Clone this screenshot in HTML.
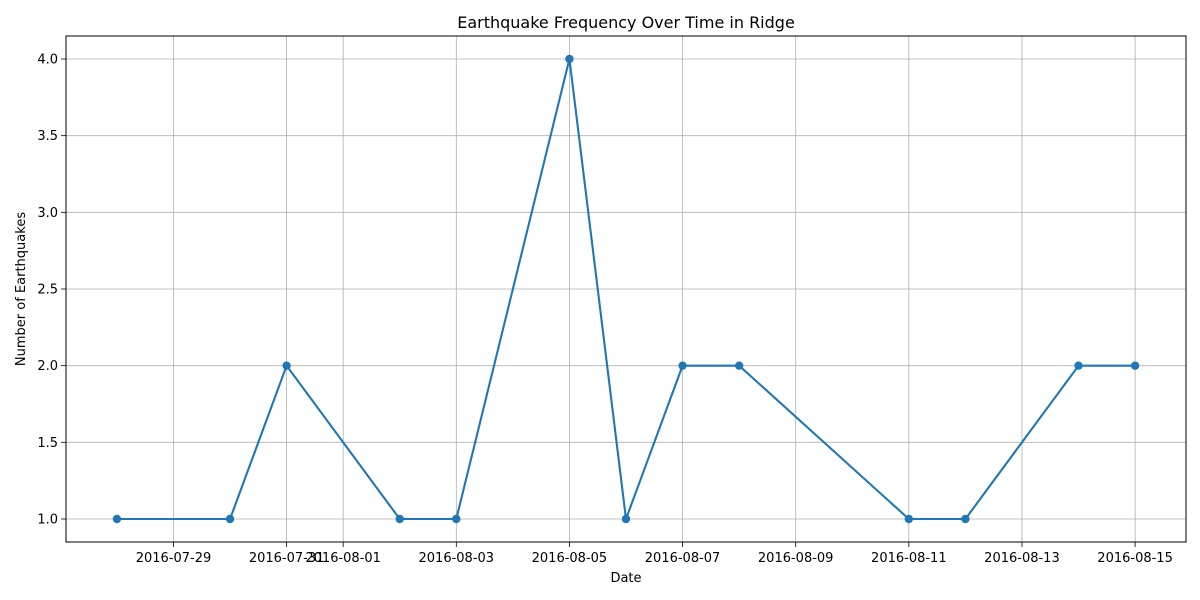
<!DOCTYPE html>
<html>
<head>
<meta charset="utf-8">
<style>
  html,body{margin:0;padding:0;background:#fff;}
  svg{display:block;font-family:"DejaVu Sans","Liberation Sans",sans-serif;}
</style>
</head>
<body>
<svg id="chart" width="1200" height="600"></svg>
<script>
const dates = ["2016-07-28","2016-07-30","2016-07-31","2016-08-02","2016-08-03","2016-08-05","2016-08-06","2016-08-07","2016-08-08","2016-08-11","2016-08-12","2016-08-14","2016-08-15"];
const counts = [1,1,2,1,1,4,1,2,2,1,1,2,2];
const xTickLabels = ["2016-07-29","2016-07-31","2016-08-01","2016-08-03","2016-08-05","2016-08-07","2016-08-09","2016-08-11","2016-08-13","2016-08-15"];
const yTicks = [1.0,1.5,2.0,2.5,3.0,3.5,4.0];

const NS="http://www.w3.org/2000/svg";
const svg=document.getElementById('chart');
const L=66,R=1186,T=36,B=542;
const day=d=>Date.UTC(+d.slice(0,4),+d.slice(5,7)-1,+d.slice(8,10))/86400000;
const dmin=Math.min(...dates.map(day)), dmax=Math.max(...dates.map(day));
const xpad=(dmax-dmin)*0.05;
const x=d=>L+(day(d)-(dmin-xpad))/((dmax-dmin)+2*xpad)*(R-L);
const vmin=Math.min(...counts), vmax=Math.max(...counts), ypad=(vmax-vmin)*0.05;
const y=v=>B-(v-(vmin-ypad))/((vmax-vmin)+2*ypad)*(B-T);
function mk(tag,attrs,parent){const e=document.createElementNS(NS,tag);for(const k in attrs)e.setAttribute(k,attrs[k]);(parent||svg).appendChild(e);return e;}

const grid=mk('g',{});


xTickLabels.forEach(t=>{
  const px=x(t);
  mk('line',{x1:px,x2:px,y1:T,y2:B,stroke:'#b0b0b0','stroke-width':0.8},grid);
  mk('line',{x1:px,x2:px,y1:B,y2:B+5,stroke:'#000','stroke-width':0.8});
  const tx=mk('text',{x:px,y:B+20,'text-anchor':'middle','font-size':13,fill:'#000'});
  tx.textContent=t;
  
  
});
yTicks.forEach(v=>{
  const py=y(v);
  mk('line',{x1:L,x2:R,y1:py,y2:py,stroke:'#b0b0b0','stroke-width':0.8},grid);
  mk('line',{x1:L-5,x2:L,y1:py,y2:py,stroke:'#000','stroke-width':0.8});
  const tx=mk('text',{x:L-8,y:py+4.5,'text-anchor':'end','font-size':13,fill:'#000'});
  tx.textContent=v.toFixed(1);
  
  
});

const line=mk('polyline',{points:dates.map((d,i)=>x(d)+','+y(counts[i])).join(' '),fill:'none',stroke:'#1f77b4','stroke-width':2.1});


dates.forEach((d,i)=>{
  const c=mk('circle',{cx:x(d),cy:y(counts[i]),r:4.2,fill:'#1f77b4'});
  
  
});

const frame=mk('rect',{x:L,y:T,width:R-L,height:B-T,fill:'none',stroke:'#000','stroke-width':1});



const title=mk('text',{x:(L+R)/2,y:28,'text-anchor':'middle','font-size':16,fill:'#000'});
title.textContent='Earthquake Frequency Over Time in Ridge';


const xl=mk('text',{x:(L+R)/2,y:582,'text-anchor':'middle','font-size':13,fill:'#000'});
xl.textContent='Date';


const yl=mk('text',{x:0,y:0,'text-anchor':'middle','font-size':13,fill:'#000',transform:'translate(25,'+((T+B)/2)+') rotate(-90)'});
yl.textContent='Number of Earthquakes';


</script>
</body>
</html>
